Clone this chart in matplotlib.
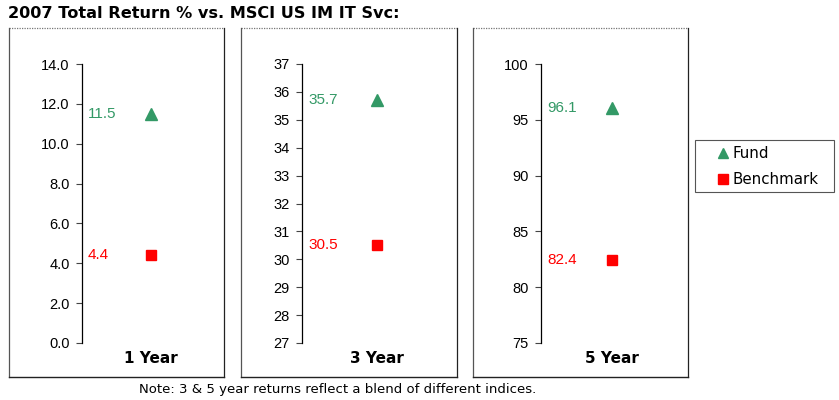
import matplotlib.pyplot as plt
from matplotlib.patches import Rectangle
from matplotlib.lines import Line2D

# data
periods = ['1 Year', '3 Year', '5 Year']
fund = [11.5, 35.7, 96.1]
benchmark = [4.4, 30.5, 82.4]
y_ranges = [(0, 14), (27, 37), (75, 100)]
y_steps = [2, 1, 5]
y_fmt = ['{:.1f}', '{:.0f}', '{:.0f}']

green = '#339966'
red = '#ff0000'

W, H = 839, 400
fig = plt.figure(figsize=(W / 100, H / 100), dpi=100)

def fx(px):
    return px / W

def fy(py):
    return 1 - py / H

# panel boxes (left, right) in pixels and axis / marker positions
boxes = [(9, 224), (241, 457), (473, 688)]
axis_x = [82, 302, 541]
marker_x = [151, 377, 612]
box_top, box_bot = 28, 377
plot_top, plot_bot = 64, 343

for (l, r) in boxes:
    fig.add_artist(Line2D([fx(l), fx(r)], [fy(box_top), fy(box_top)],
                          color='#777777', lw=0.9, ls=(0, (1, 1))))
    fig.add_artist(Line2D([fx(l), fx(l)], [fy(box_top), fy(box_bot)],
                          color='#555555', lw=0.9))
    fig.add_artist(Line2D([fx(r), fx(r)], [fy(box_top), fy(box_bot)],
                          color='#222222', lw=0.9))
    fig.add_artist(Line2D([fx(l), fx(r)], [fy(box_bot), fy(box_bot)],
                          color='#222222', lw=1.0))

for i, period in enumerate(periods):
    off = marker_x[i] - axis_x[i]
    ax = fig.add_axes([fx(axis_x[i]), fy(plot_bot), 2 * off / W,
                       (plot_bot - plot_top) / H])
    ax.set_xlim(-1, 1)
    lo, hi = y_ranges[i]
    ax.set_ylim(lo, hi)
    ticks = list(range(lo, hi + 1, y_steps[i]))
    ax.set_yticks(ticks)
    ax.set_yticklabels([y_fmt[i].format(t) for t in ticks],
                       fontfamily='Liberation Sans', fontsize=10.5)
    ax.tick_params(axis='y', length=4, width=0.8, color='#444444', pad=5)
    ax.set_xticks([0])
    ax.set_xticklabels([period], fontweight='bold', fontsize=11,
                       fontfamily='DejaVu Sans')
    ax.tick_params(axis='x', length=0, pad=6)
    for s in ['top', 'right', 'bottom']:
        ax.spines[s].set_visible(False)
    ax.spines['left'].set_linewidth(0.9)
    ax.patch.set_visible(False)

    ax.plot([0], [fund[i]], marker='^', ms=8, color=green, ls='none')
    ax.plot([0], [benchmark[i]], marker='s', ms=7, color=red, ls='none')
    ax.annotate(f'{fund[i]:.1f}', xy=(0, fund[i]),
                xycoords=('axes fraction', 'data'), xytext=(6, 0),
                textcoords='offset pixels', va='center', ha='left',
                color=green, fontsize=11, fontfamily='Liberation Sans')
    ax.annotate(f'{benchmark[i]:.1f}', xy=(0, benchmark[i]),
                xycoords=('axes fraction', 'data'), xytext=(6, 0),
                textcoords='offset pixels', va='center', ha='left',
                color=red, fontsize=11, fontfamily='Liberation Sans')

# legend box
fig.add_artist(Rectangle((fx(695), fy(192)), fx(834) - fx(695),
                         fy(140) - fy(192), fill=False, ec='#555555', lw=0.8))
fig.add_artist(Line2D([fx(723)], [fy(153)], marker='^', ms=7, color=green))
fig.add_artist(Line2D([fx(723)], [fy(179)], marker='s', ms=6.5, color=red))
fig.text(fx(733), fy(153), 'Fund', va='center', fontsize=10.8)
fig.text(fx(733), fy(179), 'Benchmark', va='center', fontsize=10.8)

fig.text(fx(8), fy(13), '2007 Total Return % vs. MSCI US IM IT Svc:',
         fontweight='bold', fontsize=11.6, va='center')
fig.text(fx(338), fy(389), 'Note: 3 & 5 year returns reflect a blend of different indices.',
         fontsize=9.5, ha='center', va='center')

fig.savefig('out.png', dpi=100)
